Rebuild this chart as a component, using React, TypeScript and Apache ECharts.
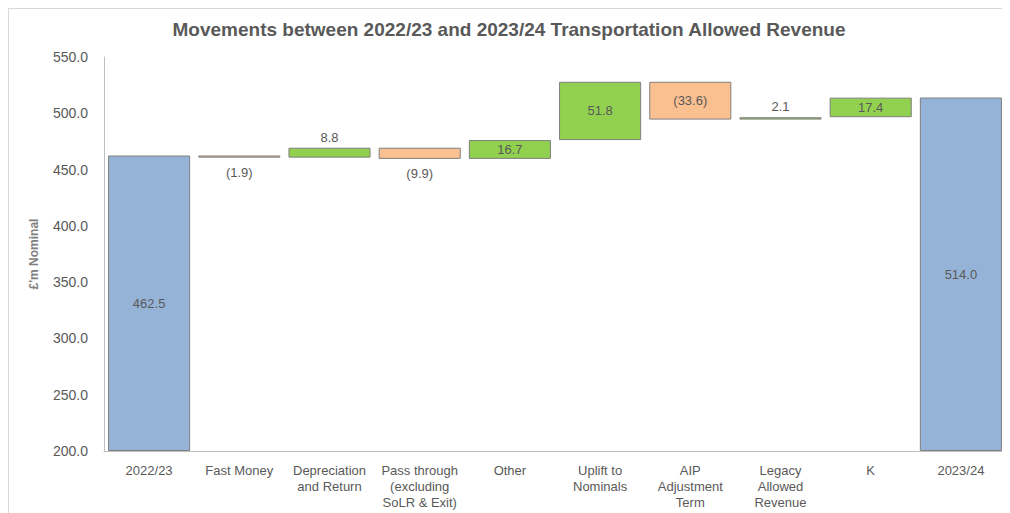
import React, { useEffect, useRef } from "react";
import * as echarts from "echarts";

const categories = [
  "2022/23",
  "Fast Money",
  "Depreciation\nand Return",
  "Pass through\n(excluding\nSoLR & Exit)",
  "Other",
  "Uplift to\nNominals",
  "AIP\nAdjustment\nTerm",
  "Legacy\nAllowed\nRevenue",
  "K",
  "2023/24",
];
const startTotal = 462.5;
const movements = [-1.9, 8.8, -9.9, 16.7, 51.8, -33.6, 2.1, 17.4];
const endTotal = 514.0;
const yTicks = { min: 200, max: 550, interval: 50 };

const BLUE = "#95B3D7";
const GREEN = "#92D050";
const ORANGE = "#FAC090";
const GREY = "#595959";

function fmt(v: number) {
  return v < 0 ? `(${Math.abs(v).toFixed(1)})` : v.toFixed(1);
}

export default function App() {
  const ref = useRef<HTMLDivElement>(null);
  useEffect(() => {
    if (!ref.current) return;
    const chart = echarts.init(ref.current, undefined, { renderer: "svg" });
    const base: number[] = [];
    const vis: any[] = [];
    const axisMin = yTicks.min;
    base.push(axisMin);
    vis.push({
      value: startTotal - axisMin,
      raw: startTotal,
      itemStyle: { color: BLUE },
      label: { position: "inside" },
    });
    let cur = startTotal;
    movements.forEach((m) => {
      const next = cur + m;
      base.push(Math.min(cur, next));
      const small = Math.abs(m) < 10;
      vis.push({
        value: Math.abs(m),
        raw: m,
        itemStyle: { color: m >= 0 ? GREEN : ORANGE },
        label: {
          position: small ? (m >= 0 ? "top" : "bottom") : "inside",
          distance: small && m < 0 ? 8 : 4,
        },
      });
      cur = next;
    });
    base.push(axisMin);
    vis.push({
      value: endTotal - axisMin,
      raw: endTotal,
      itemStyle: { color: BLUE },
      label: { position: "inside" },
    });

    chart.setOption({
      animation: false,
      title: {
        text: "Movements between 2022/23 and 2023/24 Transportation Allowed Revenue",
        left: "center",
        top: 6,
        textStyle: {
          fontFamily: "Liberation Sans, Arial",
          fontSize: 19,
          fontWeight: "bold",
          color: GREY,
        },
      },
      grid: { left: 95, top: 48, right: 3, bottom: 78, containLabel: false },
      xAxis: {
        type: "category",
        data: categories,
        axisLine: { show: true, lineStyle: { color: "#bfbfbf" } },
        axisTick: { show: false },
        axisLabel: {
          interval: 0,
          color: GREY,
          fontSize: 13,
          lineHeight: 16,
          margin: 11,
          fontFamily: "Liberation Sans, Arial",
        },
      },
      yAxis: {
        type: "value",
        min: yTicks.min,
        max: yTicks.max,
        interval: yTicks.interval,
        name: "£'m Nominal",
        nameLocation: "middle",
        nameGap: 64,
        nameTextStyle: {
          color: "#7f7f7f",
          fontSize: 12,
          fontWeight: "bold",
          fontFamily: "Liberation Sans, Arial",
        },
        axisLine: { show: true, lineStyle: { color: "#bfbfbf" } },
        axisTick: { show: false },
        splitLine: { show: false },
        axisLabel: {
          color: GREY,
          fontSize: 14,
          margin: 16,
          fontFamily: "Liberation Sans, Arial",
          formatter: (v: number) => v.toFixed(1),
        },
      },
      series: [
        {
          type: "bar",
          stack: "w",
          data: base,
          itemStyle: { color: "transparent" },
          emphasis: { disabled: true },
          barCategoryGap: "9%",
          silent: true,
        },
        {
          type: "bar",
          stack: "w",
          data: vis,
          barCategoryGap: "9%",
          itemStyle: { borderColor: "#7f7f7f", borderWidth: 1 },
          label: {
            show: true,
            color: GREY,
            fontSize: 13,
            distance: 4,
            fontFamily: "Liberation Sans, Arial",
            formatter: (p: any) => fmt(p.data.raw),
          },
        },
      ],
    });
    return () => chart.dispose();
  }, []);
  return (
    <div style={{ width: 1000, height: 520, border: "1px solid #d9d9d9" }}>
      <div ref={ref} style={{ width: 1000, height: 520 }} />
    </div>
  );
}
